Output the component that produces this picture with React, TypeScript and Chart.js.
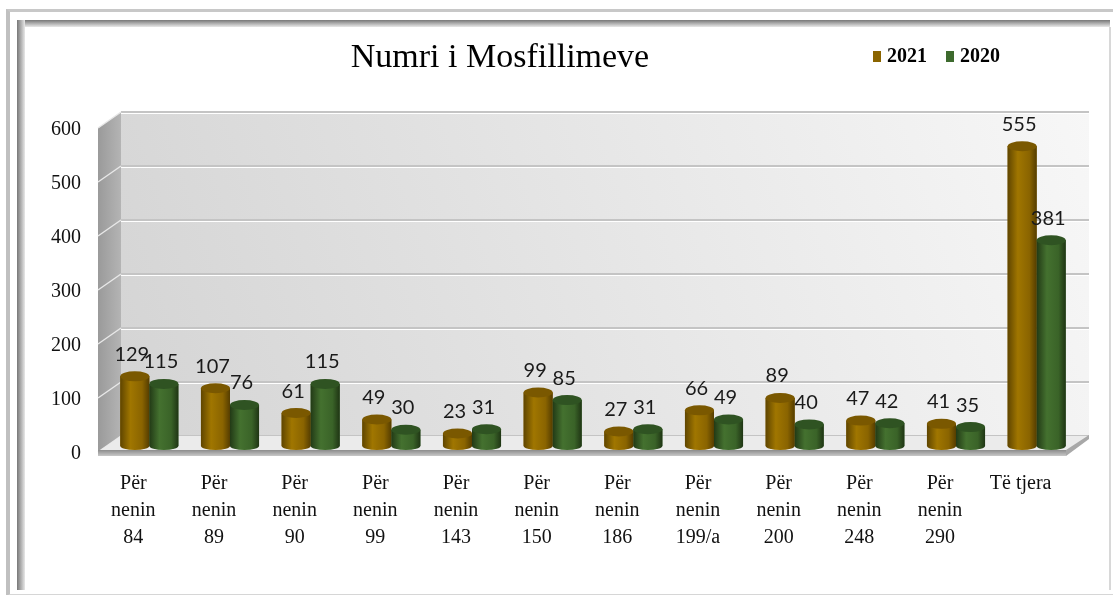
import React, { useEffect, useRef } from 'react';
import { Chart, registerables } from 'chart.js';

Chart.register(...registerables);

const chartTitle = 'Numri i Mosfillimeve';
const categories: string[][] = [
  ['Për', 'nenin', '84'],
  ['Për', 'nenin', '89'],
  ['Për', 'nenin', '90'],
  ['Për', 'nenin', '99'],
  ['Për', 'nenin', '143'],
  ['Për', 'nenin', '150'],
  ['Për', 'nenin', '186'],
  ['Për', 'nenin', '199/a'],
  ['Për', 'nenin', '200'],
  ['Për', 'nenin', '248'],
  ['Për', 'nenin', '290'],
  ['Të tjera'],
];
const seriesNames = ['2021', '2020'];
const values2021 = [129, 107, 61, 49, 23, 99, 27, 66, 89, 47, 41, 555];
const values2020 = [115, 76, 115, 30, 31, 85, 31, 49, 40, 42, 35, 381];
const yTicks = [0, 100, 200, 300, 400, 500, 600];
const seriesColors = ['#8a6400', '#3d6a2e'];
const seriesShades = [
  ['#5f4500', '#a07600', '#8a6400', '#553d00'],
  ['#223a16', '#44712f', '#3a6328', '#1f3514'],
];
const seriesTops = ['#7a5800', '#2f5322'];

const decorPlugin = {
  id: 'decor3d',
  beforeDatasetsDraw(chart: any) {
    const { ctx, chartArea, scales } = chart;
    const { left: L, right: R, top: T, bottom: B } = chartArea;
    const y = scales.y;
    const RB = R + 12;
    ctx.save();
    const g = ctx.createLinearGradient(L + 12, B - 10, RB, T - 10);
    g.addColorStop(0, '#d4d4d4');
    g.addColorStop(1, '#f7f7f7');
    ctx.fillStyle = g;
    ctx.fillRect(L + 12, T - 10, RB - (L + 12), B - T);
    const lg = ctx.createLinearGradient(L - 11, 0, L + 12, 0);
    lg.addColorStop(0, '#9a9a9a');
    lg.addColorStop(1, '#b4b4b4');
    ctx.fillStyle = lg;
    ctx.beginPath();
    ctx.moveTo(L - 11, B + 6);
    ctx.lineTo(L - 11, T + 6);
    ctx.lineTo(L + 12, T - 10);
    ctx.lineTo(L + 12, B - 10);
    ctx.closePath();
    ctx.fill();
    for (const v of yTicks) {
      const py = y.getPixelForValue(v);
      ctx.strokeStyle = '#c4c4c4';
      ctx.lineWidth = 2;
      ctx.beginPath();
      ctx.moveTo(L + 12, py - 10);
      ctx.lineTo(RB, py - 10);
      ctx.stroke();
      ctx.strokeStyle = '#ffffff';
      ctx.lineWidth = 1;
      ctx.beginPath();
      ctx.moveTo(L + 12, py - 8.5);
      ctx.lineTo(RB, py - 8.5);
      ctx.stroke();
      ctx.strokeStyle = '#e8e8e8';
      ctx.lineWidth = 1.5;
      ctx.beginPath();
      ctx.moveTo(L - 11, py + 6);
      ctx.lineTo(L + 12, py - 10);
      ctx.stroke();
    }
    ctx.fillStyle = '#ebebeb';
    ctx.beginPath();
    ctx.moveTo(L - 11, B + 6);
    ctx.lineTo(L + 12, B - 10);
    ctx.lineTo(RB, B - 10);
    ctx.lineTo(RB - 23, B + 6);
    ctx.closePath();
    ctx.fill();
    const fg = ctx.createLinearGradient(0, B + 4, 0, B + 10);
    fg.addColorStop(0, '#8c8c8c');
    fg.addColorStop(1, '#c8c8c8');
    ctx.fillStyle = fg;
    ctx.fillRect(L - 11, B + 4, RB - 23 - (L - 11), 6);
    ctx.fillStyle = '#a8a8a8';
    ctx.beginPath();
    ctx.moveTo(RB - 23, B + 4);
    ctx.lineTo(RB, B - 11);
    ctx.lineTo(RB, B - 7);
    ctx.lineTo(RB - 23, B + 10);
    ctx.closePath();
    ctx.fill();
    ctx.restore();
  },
  afterDatasetsDraw(chart: any) {
    const { ctx } = chart;
    ctx.save();
    chart.data.datasets.forEach((ds: any, di: number) => {
      const meta = chart.getDatasetMeta(di);
      const sh = seriesShades[di];
      meta.data.forEach((bar: any) => {
        const { x, y, base, width } = bar.getProps(['x', 'y', 'base', 'width'], true);
        const x0 = x - width / 2;
        const grad = ctx.createLinearGradient(x0, 0, x0 + width, 0);
        grad.addColorStop(0, sh[0]);
        grad.addColorStop(0.35, sh[1]);
        grad.addColorStop(0.75, sh[2]);
        grad.addColorStop(1, sh[3]);
        ctx.fillStyle = grad;
        ctx.fillRect(x0, y, width, base - y);
        ctx.beginPath();
        ctx.ellipse(x, base, width / 2, 4, 0, 0, Math.PI);
        ctx.fill();
        ctx.fillStyle = seriesTops[di];
        ctx.beginPath();
        ctx.ellipse(x, y, width / 2, 5, 0, 0, Math.PI * 2);
        ctx.fill();
      });
    });
    ctx.fillStyle = '#1a1a1a';
    ctx.font = '20px Lato, "Liberation Sans", sans-serif';
    ctx.textAlign = 'center';
    ctx.textBaseline = 'middle';
    chart.data.datasets.forEach((ds: any, di: number) => {
      const meta = chart.getDatasetMeta(di);
      meta.data.forEach((bar: any, i: number) => {
        const { x, y } = bar.getProps(['x', 'y'], true);
        ctx.fillText(String(ds.data[i]), x - 3, y - 22);
      });
    });
    ctx.restore();
  },
  afterDraw(chart: any) {
    const { ctx } = chart;
    ctx.save();
    ctx.fillStyle = '#000';
    ctx.textBaseline = 'middle';
    ctx.textAlign = 'center';
    ctx.font = '34px "Liberation Serif", serif';
    ctx.fillText(chartTitle, 500, 58);
    ctx.textAlign = 'left';
    ctx.font = 'bold 20px "Liberation Serif", serif';
    const legendX = [873, 946];
    chart.data.datasets.forEach((ds: any, di: number) => {
      ctx.fillStyle = seriesColors[di];
      ctx.fillRect(legendX[di], 51, 8, 11);
      ctx.fillStyle = '#000';
      ctx.fillText(ds.label, legendX[di] + 14, 57);
    });
    ctx.restore();
  },
};

export default function App() {
  const ref = useRef<HTMLCanvasElement>(null);
  useEffect(() => {
    const canvas = ref.current;
    if (!canvas) return;
    const chart = new Chart(canvas, {
      type: 'bar',
      data: {
        labels: categories,
        datasets: [
          { label: seriesNames[0], data: values2021, backgroundColor: seriesColors[0], barPercentage: 1, categoryPercentage: 0.72 },
          { label: seriesNames[1], data: values2020, backgroundColor: seriesColors[1], barPercentage: 1, categoryPercentage: 0.72 },
        ],
      },
      options: {
        responsive: false,
        animation: false,
        layout: { padding: { left: 31, right: 36, top: 122, bottom: 28 } },
        plugins: {
          legend: { display: false },
          title: { display: false },
          tooltip: { enabled: false },
        },
        scales: {
          x: {
            offset: true,
            grid: { display: false },
            border: { display: false },
            ticks: {
              autoSkip: false,
              maxRotation: 0,
              padding: 16,
              labelOffset: -16,
              color: '#111',
              font: { family: '"Liberation Serif", serif', size: 20, lineHeight: 1.35 },
            },
          },
          y: {
            min: 0,
            max: 600,
            grid: { display: false },
            border: { display: false },
            ticks: {
              stepSize: 100,
              padding: 20,
              labelOffset: 8,
              color: '#111',
              font: { family: '"Liberation Serif", serif', size: 20 },
            },
          },
        },
      },
      plugins: [decorPlugin],
    });
    return () => chart.destroy();
  }, []);

  return (
    <div style={{ position: 'absolute', left: 0, top: 0, width: 1113, height: 595, background: '#fff', overflow: 'hidden' }}>
      <div style={{ position: 'absolute', left: 6, top: 9, width: 1107, height: 582, borderTop: '3px solid #c8c8c8', borderLeft: '4px solid #c0c0c0', borderBottom: '2px solid #d6d6d6' }} />
      <div style={{ position: 'absolute', left: 17, top: 20, width: 1093, height: 7, background: 'linear-gradient(#777, #e8e8e8)' }} />
      <div style={{ position: 'absolute', left: 17, top: 20, width: 8, height: 570, background: 'linear-gradient(90deg, #777, #e8e8e8)' }} />
      <div style={{ position: 'absolute', left: 1109, top: 27, width: 2, height: 563, background: '#d8d8d8' }} />
      <canvas ref={ref} width={1113} height={595} style={{ position: 'absolute', left: 0, top: 0, display: 'block' }} />
    </div>
  );
}
